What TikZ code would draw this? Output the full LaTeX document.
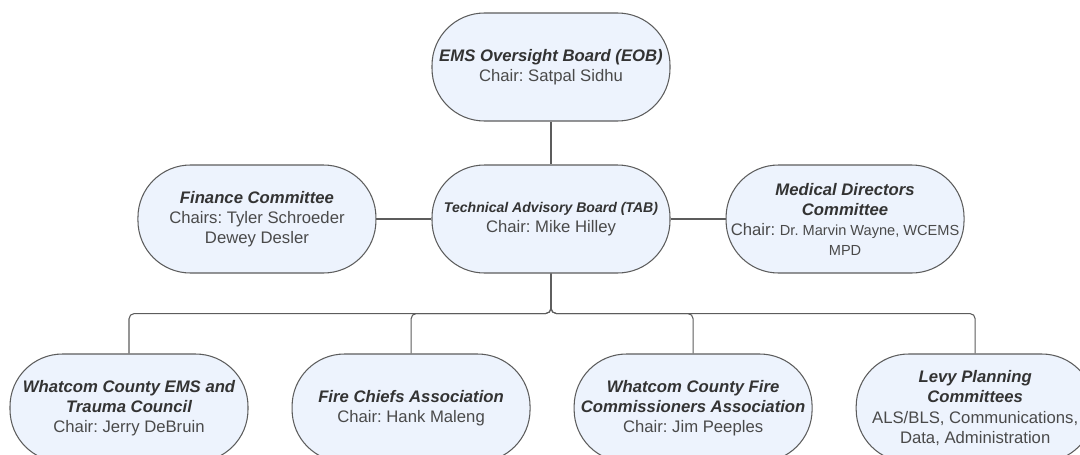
\documentclass[tikz,border=0pt]{standalone}
\usepackage{fontspec}
\setmainfont{Liberation Sans}
\usepackage{xcolor}
\usetikzlibrary{positioning}

\definecolor{boxfill}{HTML}{EDF3FD}
\definecolor{boxline}{HTML}{5C5C5C}
\definecolor{titletext}{HTML}{333333}
\definecolor{bodytext}{HTML}{4A4A4A}
\newcommand{\boxtitle}[1]{{\color{titletext}\bfseries\itshape #1}}
\newcommand{\smalltxt}[1]{{\fontsize{8.3}{11.4}\selectfont #1}}
\frenchspacing

\begin{document}
\begin{tikzpicture}[
  org/.style={draw=boxline, line width=0.6pt, fill=boxfill, rounded corners=1.05cm,
    minimum width=4.76cm, minimum height=2.16cm, inner sep=0pt, align=center,
    text=bodytext, font=\fontsize{9.5}{11.4}\selectfont},
  link/.style={draw=boxline, line width=0.6pt, rounded corners=3pt}
]
  \useasboundingbox (0,0) rectangle (21.6,9.08);

  % top two levels
  \node[org] (eob) at (11.02,7.74) {\boxtitle{EMS Oversight Board (EOB)}\\Chair: Satpal Sidhu};
  \node[org] (tab) at (11.02,4.70) {{\fontsize{8}{11.4}\selectfont\boxtitle{Technical Advisory Board (TAB)}}\\Chair: Mike Hilley};
  \node[org, left=1.1cm of tab] (fin) {\boxtitle{Finance Committee}\\Chairs: Tyler Schroeder\\Dewey Desler};
  \node[org, right=1.1cm of tab] (med) {\boxtitle{Medical Directors}\\\boxtitle{Committee}\\Chair: \smalltxt{Dr. Marvin Wayne, WCEMS}\\\smalltxt{MPD}};

  % bottom row
  \node[org] (ems) at (2.58,0.92) {\boxtitle{Whatcom County EMS and}\\\boxtitle{Trauma Council}\\Chair: Jerry DeBruin};
  \node[org, right=0.86cm of ems] (chiefs) {\boxtitle{Fire Chiefs Association}\\Chair: Hank Maleng};
  \node[org, right=0.86cm of chiefs] (comm) {\boxtitle{Whatcom County Fire}\\\boxtitle{Commissioners Association}\\Chair: Jim Peeples};
  \node[org, right=0.86cm of comm] (levy) {\boxtitle{Levy Planning}\\\boxtitle{Committees}\\ALS/BLS, Communications,\\Data, Administration};

  \coordinate[below=0.8cm of tab] (bus);

  \draw[link] (eob) -- (tab);
  \draw[link] (fin) -- (tab);
  \draw[link] (tab) -- (med);
  \foreach \n in {ems,chiefs,comm,levy} {
    \draw[link] (tab.south) -- (bus) -| (\n.north);
  }
\end{tikzpicture}
\end{document}
